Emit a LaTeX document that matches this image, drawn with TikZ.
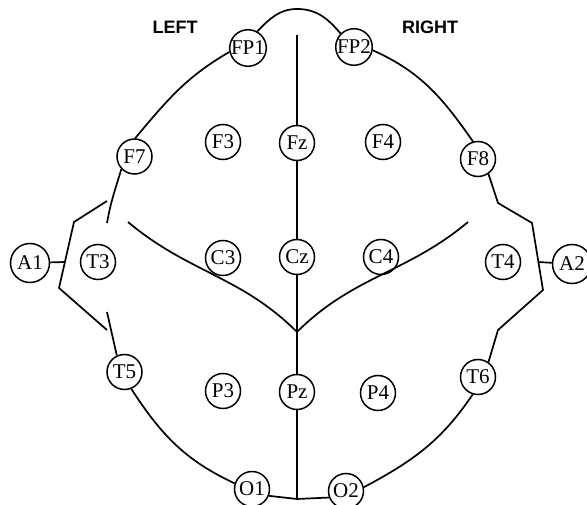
\documentclass[tikz,border=0pt]{standalone}
\usepackage{fontspec}
\usepackage{xcolor}
\usepackage{tikz}
\setmainfont{Liberation Serif}
\newfontfamily\sidefont{Liberation Sans}
\definecolor{ScalpInk}{RGB}{0, 0, 0}

\begin{document}
\begin{tikzpicture}[x=1pt, y=1pt,
    electrode/.style={draw=ScalpInk, circle, line width=1.5pt, fill=white, minimum size=35pt, inner sep=0pt, font=\fontsize{21}{25}\selectfont},
    earlobe/.style={electrode, minimum size=39pt},
    side/.style={text=ScalpInk, font=\sidefont\bfseries\fontsize{18}{22}\selectfont},
    scalp/.style={draw=ScalpInk, line width=1.7pt}]
    \useasboundingbox (0,0) rectangle (587,-505);

    \node[side] (left) at (175,-27) {LEFT};
    \node[side] (right) at (430,-27) {RIGHT};

    \node[electrode] (FP1) at (248,-48) {FP1};
    \node[electrode] (FP2) at (354,-47) {FP2};
    \node[electrode] (F7) at (134.5,-156.5) {F7};
    \node[electrode] (F3) at (223,-142) {F3};
    \node[electrode] (Fz) at (297,-143) {Fz};
    \node[electrode] (F4) at (383,-142) {F4};
    \node[electrode] (F8) at (478,-159) {F8};
    \node[earlobe] (A1) at (30,-263) {A1};
    \node[electrode] (T3) at (98,-262) {T3};
    \node[electrode] (C3) at (223,-258) {C3};
    \node[electrode] (Cz) at (297,-257) {Cz};
    \node[electrode] (C4) at (381,-257) {C4};
    \node[electrode] (T4) at (503,-262) {T4};
    \node[earlobe] (A2) at (572,-264) {A2};
    \node[electrode] (T5) at (124.5,-372) {T5};
    \node[electrode] (P3) at (223,-391) {P3};
    \node[electrode] (Pz) at (297,-392) {Pz};
    \node[electrode] (P4) at (378,-393) {P4};
    \node[electrode] (T6) at (478,-377) {T6};
    \node[electrode] (O1) at (252,-489) {O1};
    \node[electrode] (O2) at (346,-491) {O2};

    \coordinate (crown) at (297,-9);
    \coordinate (top) at (297,-35);
    \coordinate (chin) at (297,-499);
    \coordinate (join) at (297,-332);
    \coordinate (lcurve) at (128,-222);
    \coordinate (rcurve) at (468,-222);
    \coordinate (lgapA) at (107,-223);
    \coordinate (lgapB) at (107,-312);
    \coordinate (learA) at (107,-201);
    \coordinate (learB) at (74,-222);
    \coordinate (learC) at (59,-288);
    \coordinate (learD) at (107,-330);
    \coordinate (lhook) at (65,-262);
    \coordinate (rearA) at (498,-203);
    \coordinate (rearB) at (532,-223);
    \coordinate (rearC) at (543,-290);
    \coordinate (rearD) at (498,-330);
    \coordinate (rhook) at (538,-262);

    \draw[scalp] (FP1.61) to[out=45, in=180] (crown) to[out=0, in=130] (FP2.135);
    \draw[scalp] (FP1.192) to[out=210, in=50] (F7.88);
    \draw[scalp] (F7.224) to[out=253, in=80] (lgapA);
    \draw[scalp] (learA) -- (learB) -- (learC) -- (learD);
    \draw[scalp] (A1) -- (lhook);
    \draw[scalp] (lgapB) -- (T5.115);
    \draw[scalp] (T5.292) to[out=303, in=155] (O1.162);
    \draw[scalp] (O1.-22) -- (chin) -- (O2.201);
    \draw[scalp] (O2.12) to[out=28, in=236] (T6.253);
    \draw[scalp] (T6.55) -- (rearD) -- (rearC) -- (rearB) -- (rearA) -- (F8.305);
    \draw[scalp] (A2) -- (rhook);
    \draw[scalp] (FP2.-10) to[out=-24, in=125] (F8.106);

    \draw[scalp] (top) -- (Fz) -- (Cz) -- (Pz) -- (chin);
    \draw[scalp] (lcurve) to[out=-40, in=135] (join);
    \draw[scalp] (rcurve) to[out=220, in=45] (join);
\end{tikzpicture}
\end{document}
